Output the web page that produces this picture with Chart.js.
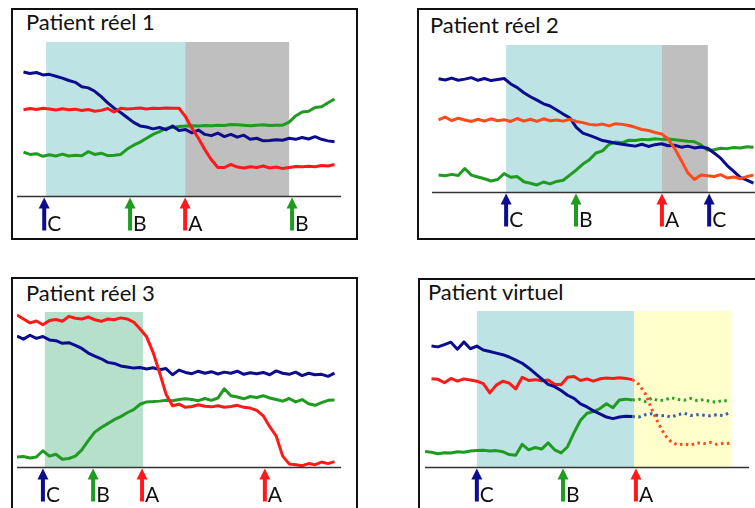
<!DOCTYPE html>
<html>
<head>
<meta charset="utf-8">
<script src="https://cdn.jsdelivr.net/npm/chart.js@4"></script>
<style>
  body { margin: 0; width: 755px; height: 508px; overflow: hidden; background: #fff; position: relative; font-family: Lato, "Noto Sans", sans-serif; }
  .box { position: absolute; border: 2px solid #111; box-sizing: border-box; }
  .ttl { position: absolute; font-size: 22px; line-height: 22px; color: #111; white-space: nowrap; }
  canvas { position: absolute; }
</style>
</head>
<body>
<div class="box" style="left:11px;top:8px;width:347px;height:232px"></div>
<div class="box" style="left:417px;top:8px;width:400px;height:232px"></div>
<div class="box" style="left:11px;top:277px;width:347px;height:260px"></div>
<div class="box" style="left:418px;top:278px;width:400px;height:260px"></div>

<div class="ttl" style="left:26px;top:11px">Patient réel 1</div>
<div class="ttl" style="left:430px;top:14px">Patient réel 2</div>
<div class="ttl" style="left:26px;top:282px">Patient réel 3</div>
<div class="ttl" style="left:428px;top:281px">Patient virtuel</div>

<canvas id="c1" width="343" height="228" style="left:13px;top:10px"></canvas>
<canvas id="c2" width="350" height="228" style="left:420px;top:10px"></canvas>
<canvas id="c3" width="343" height="229" style="left:13px;top:279px"></canvas>
<canvas id="c4" width="349" height="227" style="left:421px;top:281px"></canvas>

<script>
// time axis (0-100 = width of the baseline), level axis (0 = baseline, 100 = top of shading)
const xs1 = [2,4,6,8,10,12,14,16,18,20,22,24,26,28,30,32,34,36,38,40,42,44,46,48,50,52,54,56,58,60,62,64,66,68,70,72,74,76,78,80,82,84,86,88,90,92,94,96,98];
const blue1 = [80.5,79.5,80.2,78.6,79.0,77.8,76.5,75.0,73.8,71.0,
  70.2,68.0,64.5,60.5,57.0,54.2,51.0,47.8,45.5,44.8,
  43.6,44.5,43.0,45.5,42.5,43.2,41.0,42.8,40.0,39.2,
  40.8,38.6,40.0,38.2,39.5,36.8,37.5,35.8,36.0,36.5,
  36.2,37.5,36.8,38.0,37.0,38.5,36.8,35.8,35.2];
const red1 = [56.0,56.8,56.2,57.0,56.5,55.8,56.6,56.0,56.4,55.5,
  56.2,55.0,55.6,56.8,54.5,57.0,56.5,56.8,57.2,56.5,
  57.0,56.8,57.2,57.0,57.0,51.5,44.0,37.5,30.0,23.5,
  18.5,18.5,20.5,18.8,18.2,19.0,18.5,19.5,18.2,18.8,
  17.8,18.5,19.2,19.0,19.3,19.0,19.8,19.5,20.5];
const green1 = [28.5,27.0,27.5,25.8,26.8,26.0,27.2,26.0,26.5,26.2,
  28.8,27.0,27.8,26.2,26.5,27.0,30.5,33.0,35.0,37.5,
  40.0,41.8,44.0,44.5,45.2,45.5,45.6,45.5,45.8,45.6,
  46.0,45.8,46.4,46.2,46.0,45.6,46.0,46.3,45.8,46.0,
  46.0,48.0,52.0,54.5,55.0,57.5,58.0,60.5,63.0];

const xs2 = xs1;
const blue2 = [77.0,76.2,77.5,76.0,76.8,77.8,76.0,77.2,75.8,76.5,
  77.2,73.5,71.0,67.5,64.8,62.5,60.0,58.5,55.8,53.0,
  50.5,44.0,40.0,38.5,36.8,35.0,34.2,33.2,32.5,31.8,
  31.2,32.5,31.0,32.2,32.8,31.5,31.8,30.5,31.2,30.0,
  30.6,29.8,26.5,23.0,18.0,14.0,10.0,8.0,6.0];
const red2 = [49.0,51.0,48.5,50.2,49.0,48.0,49.5,48.2,49.8,48.5,
  49.2,48.0,50.0,48.2,49.5,48.0,49.8,48.5,49.0,48.2,
  49.5,48.0,47.2,46.0,45.5,46.2,45.0,46.5,46.0,45.2,
  44.0,42.5,41.8,40.5,39.5,36.0,29.5,21.5,13.0,8.5,
  11.5,11.0,10.5,11.8,9.5,10.2,9.0,10.5,11.5];
const green2 = [11.6,11.0,12.0,11.2,16.0,11.5,10.2,9.0,7.5,8.5,
  12.5,10.0,10.5,7.0,6.0,4.8,6.8,5.5,7.2,8.0,
  11.5,15.0,19.0,22.0,26.5,28.0,32.5,34.0,33.5,35.2,
  35.0,35.8,35.5,36.2,35.8,36.0,35.5,35.0,34.5,34.2,
  32.0,28.5,28.8,29.8,29.5,30.2,30.0,30.8,30.5];

const xs3 = [0,2,4,6,8,10,12,14,16,18,20,22,24,26,28,30,32,34,36,38,40,42,44,46,48,50,52,54,56,58,60,62,64,66,68,70,72,74,76,78,80,82,84,86,88,90,92,94,96,98];
const red3 = [98.0,95.5,93.0,94.2,91.8,94.5,95.2,94.0,97.2,96.0,
  95.5,96.8,95.0,94.0,95.5,95.0,96.2,95.5,93.5,89.0,
  84.0,74.0,61.0,47.0,39.5,40.5,38.5,39.0,40.2,39.2,
  38.8,39.5,38.5,39.0,39.8,38.5,38.0,36.5,33.0,26.0,
  20.0,7.0,2.0,1.5,0.8,2.2,1.5,3.2,2.2,3.5];
const blue3 = [84.5,82.5,85.0,83.0,84.2,82.0,81.5,79.8,80.2,78.5,
  76.5,73.5,71.5,69.8,67.5,66.8,65.2,64.5,63.8,64.2,
  63.2,64.0,62.8,63.5,59.5,62.5,61.0,60.2,61.8,60.5,
  61.5,60.0,61.2,60.5,61.8,59.8,60.8,60.2,61.0,59.5,
  62.0,60.5,59.8,61.2,59.0,60.5,59.5,59.8,58.5,60.5];
const green3 = [6.5,6.8,5.8,6.5,10.5,7.0,8.2,5.0,5.5,7.0,
  11.0,17.0,22.5,25.5,28.0,30.5,32.5,35.0,37.0,40.5,
  42.0,42.2,42.5,43.0,42.8,43.5,44.0,43.5,42.8,44.2,
  43.0,44.5,50.5,46.0,45.2,44.0,45.5,44.8,46.0,44.5,
  43.5,42.5,44.2,42.0,43.5,40.8,39.8,41.5,43.0,43.2];

const xs4 = [0,2,4,6,8,10,12,14,16,18,20,22,24,26,28,30,32,34,36,38,40,42,44,46,48,50,52,54,56,58,60,62,64,66,68,70,72,74,76,78,80,82,84,86,88,90,92,94];
const simEnd = 64; // simulation stops here, prediction (dotted) afterwards
const blue4 = [null,77.6,77.0,78.5,80.0,75.5,80.2,75.8,77.5,75.0,
  74.0,73.0,72.0,70.5,68.5,66.5,63.5,60.0,56.5,53.0,
  51.5,49.0,46.0,44.0,40.5,38.5,36.0,34.0,32.0,31.0,
  32.0,32.5,32.3,32.0,33.5,34.2,32.8,33.0,32.0,33.5,
  34.5,33.0,33.5,33.2,32.8,33.5,33.0,34.8];
const red4 = [null,56.5,56.2,54.0,56.8,55.0,56.5,55.8,55.0,53.5,
  47.5,52.5,55.0,53.8,50.0,57.5,55.5,56.0,55.2,55.8,
  53.0,52.8,57.5,58.0,55.5,56.5,55.0,56.5,57.0,56.8,
  57.2,56.8,56.0,53.0,47.0,37.0,28.0,20.5,16.0,14.2,
  14.8,14.0,15.5,15.0,15.8,14.5,15.0,15.2];
const green4 = [10.0,9.5,8.5,9.2,9.0,9.8,9.5,10.2,10.5,10.8,
  10.2,10.5,9.8,8.0,7.5,14.5,11.0,12.5,11.5,15.5,
  11.0,9.0,13.0,22.0,30.0,34.5,35.5,37.5,40.5,38.0,
  43.0,43.5,42.9,43.5,42.0,44.2,42.5,43.0,44.5,43.2,
  42.8,44.0,42.5,43.2,42.0,41.5,42.8,42.0];

const BLUE = '#0c0c8e', RED = '#ff1a1a', ORANGE = '#ff4a1c', GREEN = '#1f9c1f';
const CYAN = '#bde3e4', GREY = '#bfbfbf', MINT = '#b6e0cb', YELLOW = '#ffffcc';

const decor = {
  id: 'decor',
  beforeDatasetsDraw(chart, args, o) {
    const { ctx, scales: { x, y } } = chart;
    const top = y.getPixelForValue(100), bot = y.getPixelForValue(0);
    ctx.save();
    o.bands.forEach(b => {
      const x0 = x.getPixelForValue(b.from), x1 = x.getPixelForValue(b.to);
      ctx.fillStyle = b.color;
      ctx.fillRect(x0, top, x1 - x0, bot - top);
    });
    ctx.restore();
  },
  afterDatasetsDraw(chart, args, o) {
    const { ctx, chartArea: a, scales: { x, y } } = chart;
    const y0 = Math.round(y.getPixelForValue(0)) + 0.5;
    ctx.save();
    ctx.strokeStyle = '#333';
    ctx.lineWidth = 1.5;
    ctx.beginPath();
    ctx.moveTo(a.left, y0);
    ctx.lineTo(a.right + (o.axisExtra || 0), y0);
    ctx.stroke();
    o.arrows.forEach(ar => {
      const px = x.getPixelForValue(ar.at);
      const t = y0 + 1, b = t + o.len;
      ctx.fillStyle = ar.color;
      ctx.beginPath();
      ctx.moveTo(px, t);
      ctx.lineTo(px + 5.5, t + 11);
      ctx.lineTo(px - 5.5, t + 11);
      ctx.closePath();
      ctx.fill();
      ctx.fillRect(px - 2, t + 9, 4, b - t - 9);
      ctx.fillStyle = '#111';
      ctx.font = '21px Lato';
      ctx.textBaseline = 'alphabetic';
      ctx.fillText(ar.label, px + 3, b);
    });
    ctx.restore();
  }
};

function series(xs, ys, color, dotted, dotColor) {
  const ds = {
    data: xs.map((x, i) => ({ x, y: ys[i] })),
    borderColor: color,
    borderWidth: 3,
    pointRadius: 0,
    tension: 0,
    borderJoinStyle: 'round'
  };
  if (dotted) {
    ds.segment = {
      borderDash: c => c.p0.parsed.x >= simEnd ? [2.5, 3.5] : undefined,
      borderColor: c => c.p0.parsed.x >= simEnd ? dotColor : undefined
    };
  }
  return ds;
}

function panel(id, pad, datasets, deco) {
  new Chart(document.getElementById(id), {
    type: 'line',
    data: { datasets },
    options: {
      responsive: false,
      animation: false,
      layout: { padding: pad },
      scales: {
        x: { type: 'linear', min: 0, max: 100, display: false },
        y: { min: 0, max: 100, display: false }
      },
      plugins: { legend: { display: false }, tooltip: { enabled: false }, decor: deco }
    },
    plugins: [decor]
  });
}

panel('c1', { left: 4, top: 32, right: 15, bottom: 42 }, [
  series(xs1, red1, RED), series(xs1, blue1, BLUE), series(xs1, green1, GREEN)
], {
  len: 33,
  bands: [{ from: 9, to: 51.9, color: CYAN }, { from: 51.9, to: 84, color: GREY }],
  arrows: [
    { at: 8.4, label: 'C', color: BLUE }, { at: 34.9, label: 'B', color: GREEN },
    { at: 51.9, label: 'A', color: RED }, { at: 84.9, label: 'B', color: GREEN }
  ]
});

panel('c2', { left: 12, top: 35, right: 10, bottom: 46 }, [
  series(xs2, red2, ORANGE), series(xs2, blue2, BLUE), series(xs2, green2, GREEN)
], {
  len: 33, axisExtra: 10,
  bands: [{ from: 22.6, to: 70.1, color: CYAN }, { from: 70.1, to: 84.1, color: GREY }],
  arrows: [
    { at: 22.6, label: 'C', color: BLUE }, { at: 43.9, label: 'B', color: GREEN },
    { at: 70.1, label: 'A', color: RED }, { at: 84.5, label: 'C', color: BLUE }
  ]
});

panel('c3', { left: 4, top: 33, right: 15, bottom: 41 }, [
  series(xs3, red3, RED), series(xs3, blue3, BLUE), series(xs3, green3, GREEN)
], {
  len: 33,
  bands: [{ from: 8.6, to: 38.9, color: MINT }],
  arrows: [
    { at: 8.0, label: 'C', color: BLUE }, { at: 23.5, label: 'B', color: GREEN },
    { at: 38.6, label: 'A', color: RED }, { at: 76.5, label: 'A', color: RED }
  ]
});

panel('c4', { left: 4, top: 30, right: 21, bottom: 41 }, [
  series(xs4, blue4, BLUE, true, '#3d5cae'), series(xs4, red4, RED, true, ORANGE), series(xs4, green4, GREEN, true, '#2aa02a')
], {
  len: 33,
  bands: [{ from: 16.0, to: 64.5, color: CYAN }, { from: 64.5, to: 94.8, color: YELLOW }],
  arrows: [
    { at: 16.0, label: 'C', color: BLUE }, { at: 42.6, label: 'B', color: GREEN },
    { at: 65.1, label: 'A', color: RED }
  ]
});
</script>
</body>
</html>
